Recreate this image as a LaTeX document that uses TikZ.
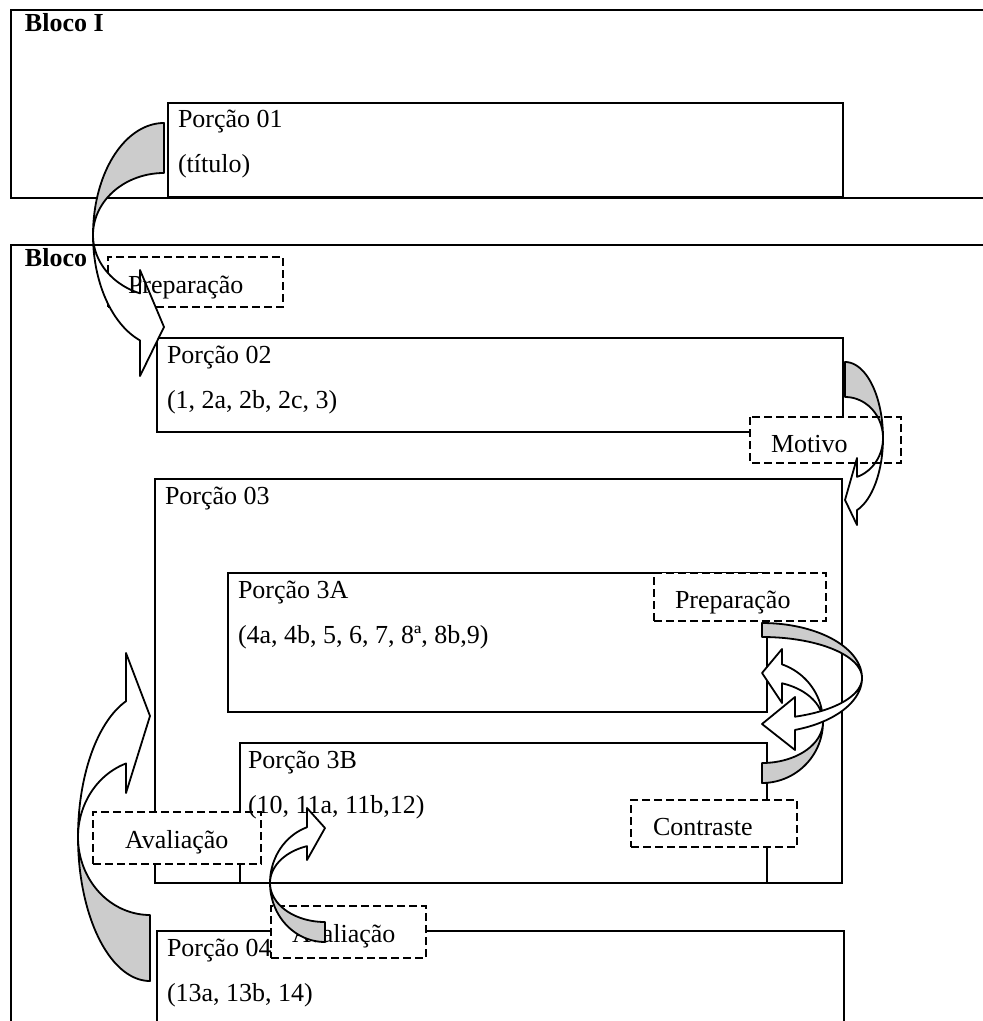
\documentclass[tikz,border=0pt]{standalone}
\usepackage{fontspec}
\setmainfont{Liberation Serif}
\definecolor{backgrey}{RGB}{204,204,204}
% Word-style curved arrow: tail at top (x=0), bulging to the left, head at the bottom pointing right
% #1 scope options, #2 rx, #3 outer ry, #4 inner ry, #5 head base offset, #6 barb1 y, #7 tip y, #8 barb2 y
\newcommand{\wordcarrow}[8]{%
  \begin{scope}[#1]
    \pgfmathsetmacro{\wcth}{acos(-(#5)/(#2))}
    \filldraw[arrowline, fill=backgrey] (0,-#3)
      -- plot[domain=-90:-180, samples=40, variable=\t] ({#2*cos(\t)},{#3*sin(\t)})
      -- plot[domain=-180:-90, samples=40, variable=\t] ({#2*cos(\t)},{#4*sin(\t)})
      -- cycle;
    \filldraw[arrowline, fill=white] (-#2,0)
      -- plot[domain=180:\wcth, samples=40, variable=\t] ({#2*cos(\t)},{#4*sin(\t)})
      -- (-#5,#6) -- (0,#7) -- (-#5,#8)
      -- plot[domain=\wcth:180, samples=40, variable=\t] ({#2*cos(\t)},{#3*sin(\t)})
      -- cycle;
  \end{scope}}
\begin{document}
\begin{tikzpicture}[x=0.5pt, y=-0.5pt,
  porbox/.style={draw, line width=0.6pt, fill=white, inner sep=0pt, outer sep=0pt, anchor=north west},
  lblbox/.style={draw, line width=0.8pt, dash pattern=on 4pt off 2pt, fill=white, inner sep=0pt, outer sep=0pt},
  lblfill/.style={fill=white, inner sep=0pt, outer sep=0pt},
  lblline/.style={line width=0.8pt, dash pattern=on 4pt off 2pt},
  txt/.style={inner sep=0pt, outer sep=0pt, anchor=base west, font=\fontsize{13}{15}\selectfont},
  btxt/.style={inner sep=0pt, outer sep=0pt, anchor=base west, font=\fontsize{13}{15}\selectfont\bfseries},
  arrowline/.style={draw, line width=0.9pt, line join=round}]
\useasboundingbox (0,0) rectangle (983,1021);
\clip (0,0) rectangle (983,1021);

% Bloco I
\node[porbox, minimum width=494.5pt, minimum height=94pt] (blocoI) at (11,10) {};
\node[porbox, minimum width=337.5pt, minimum height=47pt] (p01) at (168,103) {};
\node[btxt] (blocoItxt) at (25,32) {Bloco I};
\node[txt] (p01a) at (178,128) {Porção 01};
\node[txt] (p01b) at (178,173) {(título)};

% Bloco II
\node[porbox, minimum width=494.5pt, minimum height=400pt] (blocoII) at (11,245) {};
\node[porbox, minimum width=343pt, minimum height=47pt] (p02) at (157,338) {};
\node[porbox, minimum width=343.5pt, minimum height=202pt] (p03) at (155,479) {};
\node[porbox, minimum width=269.5pt, minimum height=69.5pt] (p3A) at (228,573) {};
\node[porbox, minimum width=263.5pt, minimum height=70pt] (p3B) at (240,743) {};
\node[porbox, minimum width=343.5pt, minimum height=54.5pt] (p04) at (157,931) {};

% label boxes
\node[lblbox, minimum width=87.5pt, minimum height=25pt] (prepA) at (195.5,282) {};
\node[lblfill, minimum width=75.5pt, minimum height=23pt] (motivo) at (825.5,440) {};
\node[lblbox, minimum width=86pt, minimum height=24pt] (prepB) at (740,597) {};
\node[lblbox, minimum width=83pt, minimum height=23.5pt] (contraste) at (714,823.5) {};
\node[lblbox, minimum width=84pt, minimum height=26pt] (avalA) at (177,838) {};
\node[lblbox, minimum width=77.5pt, minimum height=26pt] (avalB) at (348.5,932) {};

% texts of the portions
\node[btxt] (blocoIItxt) at (25,267) {Bloco};
\node[txt] (p02a) at (167,363) {Porção 02};
\node[txt] (p02b) at (167,408) {(1, 2a, 2b, 2c, 3)};
\node[txt] (p03a) at (165,504) {Porção 03};
\node[txt] (p3Aa) at (238,598) {Porção 3A};
\node[txt] (p3Ab) at (238,643) {(4a, 4b, 5, 6, 7, 8ª, 8b,9)};
\node[txt] (p3Ba) at (248,768) {Porção 3B};
\node[txt] (p3Bb) at (248,813) {(10, 11a, 11b,12)};
\node[txt] (p04a) at (167,956) {Porção 04};
\node[txt] (p04b) at (167,1001) {(13a, 13b, 14)};

% Avaliação (bottom) and its arrow
\node[txt] (avalBtxt) at (292,942) {Avaliação};
\wordcarrow{shift={(325,883)},yscale=-1}{55}{59}{39}{18}{23}{55}{75}

% Preparação (top) and its arrow
\wordcarrow{shift={(164,235)}}{71}{112}{62}{24}{35}{92}{141}
\node[txt] (prepAtxt) at (128,293) {Preparação};

% Motivo and its arrow
\wordcarrow{shift={(845,438)},xscale=-1}{38}{76}{41}{12}{20}{62}{87}
\draw[lblline] (motivo.north west) rectangle (motivo.south east);
\node[txt] (motivotxt) at (771,452) {Motivo};

\node[txt] (prepBtxt) at (675,608) {Preparação};
\node[txt] (contrastetxt) at (653,835) {Contraste};
\node[txt] (avalAtxt) at (125,848) {Avaliação};

% remaining arrows
\wordcarrow{shift={(150,837)},yscale=-1}{72}{144}{78}{24}{44}{121}{184}
\wordcarrow{shift={(762,722)},xscale=-1,yscale=-1}{61}{61}{41}{20}{19}{49}{73}
\wordcarrow{shift={(762,678)},xscale=-1}{100}{55}{41}{33}{19}{46}{72}
\end{tikzpicture}
\end{document}
